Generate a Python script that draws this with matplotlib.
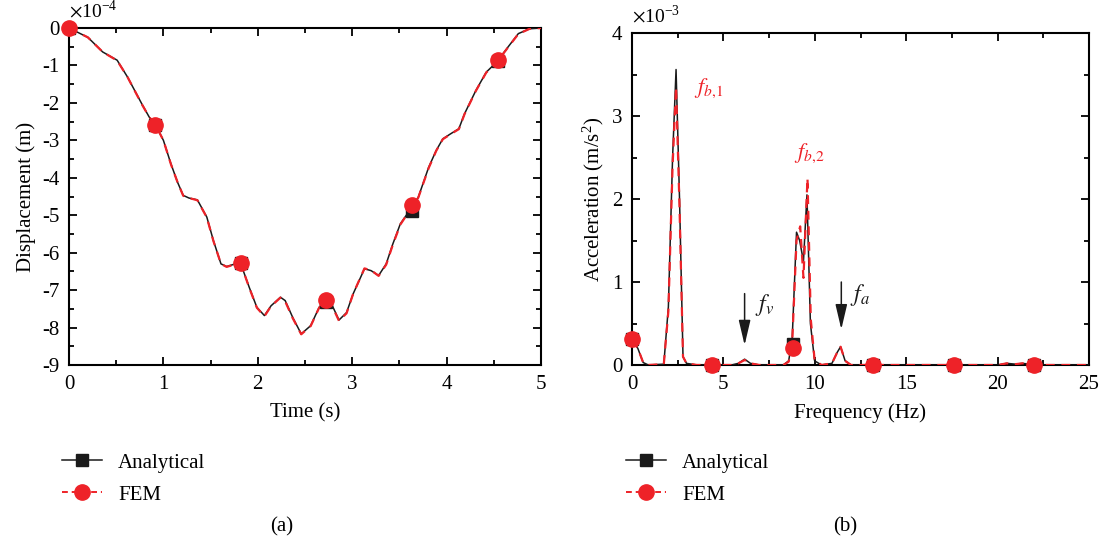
import matplotlib
matplotlib.use("Agg")
import matplotlib.pyplot as plt
from matplotlib.lines import Line2D
from matplotlib.ticker import MultipleLocator, FuncFormatter

plt.rcParams['font.family'] = ['Liberation Serif', 'DejaVu Serif']
plt.rcParams['mathtext.fontset'] = 'stix'

# ---------------- data: panel (a) displacement (x1e-4 m) ----------------
t_ana = [0, 0.2, 0.357, 0.51, 0.62, 0.77, 0.85, 0.91, 1.0, 1.08, 1.15, 1.21, 1.27, 1.36,
         1.46, 1.53, 1.61, 1.67, 1.76, 1.82, 1.91, 1.99, 2.07, 2.14, 2.24, 2.29, 2.37,
         2.46, 2.56, 2.65, 2.72, 2.79, 2.86, 2.94, 3.01, 3.13, 3.2, 3.28, 3.36, 3.43,
         3.51, 3.62, 3.7, 3.81, 3.89, 3.96, 4.04, 4.13, 4.19, 4.31, 4.42, 4.53, 4.65,
         4.76, 4.88, 5.0]
d_ana = [0, -0.25, -0.64, -0.86, -1.31, -2.02, -2.38, -2.56, -3.0, -3.63, -4.12, -4.47,
         -4.54, -4.59, -5.05, -5.68, -6.3, -6.37, -6.3, -6.3, -6.93, -7.46, -7.68, -7.42,
         -7.19, -7.28, -7.73, -8.17, -7.95, -7.46, -7.28, -7.42, -7.8, -7.6, -7.1, -6.43,
         -6.48, -6.61, -6.3, -5.77, -5.23, -4.83, -4.52, -3.72, -3.27, -2.96, -2.83,
         -2.69, -2.29, -1.67, -1.18, -0.91, -0.51, -0.15, -0.02, 0]
d_fem = [0, -0.25, -0.64, -0.87, -1.31, -2.03, -2.38, -2.56, -3.0, -3.64, -4.12, -4.48,
         -4.54, -4.6, -5.06, -5.69, -6.3, -6.38, -6.31, -6.3, -6.94, -7.47, -7.7, -7.43,
         -7.2, -7.3, -7.75, -8.18, -7.96, -7.47, -7.28, -7.44, -7.82, -7.62, -7.1, -6.42,
         -6.47, -6.62, -6.32, -5.79, -5.25, -4.83, -4.53, -3.74, -3.28, -2.97, -2.84,
         -2.7, -2.3, -1.68, -1.19, -0.92, -0.52, -0.16, -0.02, 0]
t_mk = [0, 0.909, 1.818, 2.727, 3.636, 4.545]
d_mk_ana = [0, -2.6, -6.28, -7.32, -4.88, -0.88]
d_mk_fem = [0, -2.6, -6.28, -7.27, -4.73, -0.85]

# ---------------- data: panel (b) acceleration spectrum (x1e-3 m/s^2) ----------------
f_ana = [0, 0.32, 0.61, 0.89, 1.74, 1.99, 2.22, 2.41, 2.6, 2.79, 2.98, 3.54, 5.44, 5.82,
         6.16, 6.48, 6.96, 8.28, 8.57, 8.76, 9.0, 9.17, 9.38, 9.57, 9.76, 9.99, 10.37,
         10.94, 11.22, 11.41, 11.66, 11.98, 20.03, 20.5, 20.98, 21.36, 22.12, 25.0]
a_ana = [0.3, 0.2, 0.03, 0.0, 0.01, 0.7, 2.5, 3.56, 2.0, 0.1, 0.02, 0.0, 0.0, 0.02,
         0.07, 0.02, 0.0, 0.0, 0.05, 0.3, 1.6, 1.5, 1.25, 2.05, 0.5, 0.05, 0.0,
         0.02, 0.15, 0.22, 0.05, 0.0, 0.0, 0.02, 0.01, 0.02, 0.0, 0.0]
f_fem = [0, 0.32, 0.61, 0.89, 1.74, 1.99, 2.22, 2.41, 2.6, 2.79, 2.98, 3.54, 5.44, 5.82,
         6.16, 6.48, 6.96, 8.28, 8.57, 8.76, 9.0, 9.2, 9.38, 9.6, 9.78, 9.99, 10.37,
         10.94, 11.22, 11.41, 11.66, 11.98, 20.03, 20.5, 20.98, 21.36, 22.12, 25.0]
a_fem = [0.3, 0.2, 0.03, 0.0, 0.01, 0.65, 2.4, 3.35, 1.9, 0.1, 0.02, 0.0, 0.0, 0.02,
         0.06, 0.02, 0.0, 0.0, 0.04, 0.25, 1.5, 1.67, 1.05, 2.25, 0.55, 0.06, 0.0,
         0.02, 0.15, 0.22, 0.05, 0.0, 0.0, 0.02, 0.01, 0.02, 0.0, 0.0]
f_mk = [0, 4.4, 8.8, 13.2, 17.6, 22.0]
a_mk_ana = [0.31, 0.0, 0.25, 0.0, 0.0, 0.0]
a_mk_fem = [0.31, 0.0, 0.2, 0.0, 0.0, 0.0]

RED = '#ee2228'
BLK = '#1a1a1a'
FS = 15

fig = plt.figure(figsize=(11.01, 5.47), dpi=100)
axA = fig.add_axes([69/1101, 1-365/547, (541-69)/1101, (365-28)/547])
axB = fig.add_axes([632/1101, 1-365/547, (1089-632)/1101, (365-33)/547])

def style(ax):
    for s in ax.spines.values():
        s.set_linewidth(1.5)
    ax.tick_params(which='both', direction='in', top=True, right=True, labelsize=FS,
                   width=1.3)
    ax.tick_params(which='major', length=6, pad=7)
    ax.tick_params(which='minor', length=3.5)

hyph = FuncFormatter(lambda v, p: ('%g' % v).replace('\u2212', '-'))

# panel (a)
axA.plot(t_ana, d_ana, color=BLK, lw=1.1, zorder=3)
axA.plot(t_ana, d_fem, color=RED, lw=1.6, ls=(0, (4, 3)), zorder=4)
axA.plot(t_mk, d_mk_ana, ls='none', marker='s', ms=9, color=BLK, zorder=5)
axA.plot(t_mk, d_mk_fem, ls='none', marker='o', ms=11, color=RED, zorder=6, clip_on=False)
axA.set_xlim(0, 5)
axA.set_ylim(-9, 0)
axA.xaxis.set_major_locator(MultipleLocator(1))
axA.xaxis.set_minor_locator(MultipleLocator(0.5))
axA.yaxis.set_major_locator(MultipleLocator(1))
axA.yaxis.set_minor_locator(MultipleLocator(0.5))
axA.yaxis.set_major_formatter(hyph)
axA.set_xlabel('Time (s)', fontsize=FS, labelpad=7)
axA.set_ylabel('Displacement (m)', fontsize=FS, labelpad=4)
style(axA)
axA.text(0.0, 1.02, r'$\times$10$^{\mathregular{-4}}$', transform=axA.transAxes,
         fontsize=14, ha='left', va='bottom')

# panel (b)
axB.plot(f_ana, a_ana, color=BLK, lw=1.1, zorder=3)
axB.plot(f_fem, a_fem, color=RED, lw=1.6, ls=(0, (4, 3)), zorder=4)
axB.plot(f_mk, a_mk_ana, ls='none', marker='s', ms=9, color=BLK, zorder=5, clip_on=False)
axB.plot(f_mk, a_mk_fem, ls='none', marker='o', ms=11, color=RED, zorder=6, clip_on=False)
axB.set_xlim(0, 25)
axB.set_ylim(0, 4)
axB.xaxis.set_major_locator(MultipleLocator(5))
axB.xaxis.set_minor_locator(MultipleLocator(2.5))
axB.yaxis.set_major_locator(MultipleLocator(1))
axB.yaxis.set_minor_locator(MultipleLocator(0.5))
axB.set_xlabel('Frequency (Hz)', fontsize=FS, labelpad=7)
axB.set_ylabel('Acceleration (m/s$^{\\mathregular{2}}$)', fontsize=FS, labelpad=4)
style(axB)
axB.text(0.0, 1.02, r'$\times$10$^{\mathregular{-3}}$', transform=axB.transAxes,
         fontsize=14, ha='left', va='bottom')

axB.text(3.4, 3.33, r'$f_{b,\!1}$', color=RED, fontsize=16, ha='left', va='center')
axB.text(8.85, 2.55, r'$f_{b,\!2}$', color=RED, fontsize=16, ha='left', va='center')
arrow_kw = dict(arrowstyle='-|>,head_length=0.85,head_width=0.2', color=BLK, lw=1.1,
                mutation_scale=18, shrinkA=0, shrinkB=0)
axB.annotate('', xy=(6.16, 0.24), xytext=(6.16, 0.86), arrowprops=arrow_kw)
axB.text(6.75, 0.72, r'$f_{v}$', color=BLK, fontsize=17, ha='left', va='center')
axB.annotate('', xy=(11.45, 0.43), xytext=(11.45, 1.0), arrowprops=arrow_kw)
axB.text(11.95, 0.84, r'$f_{a}$', color=BLK, fontsize=17, ha='left', va='center')

# legends
def handles():
    return [Line2D([], [], color=BLK, lw=1.1, marker='s', ms=9),
            Line2D([], [], color=RED, lw=1.4, ls=(0, (3, 2)), marker='o', ms=11)]

for x0 in (62/1101, 626/1101):
    fig.legend(handles(), ['Analytical', 'FEM'], loc='upper left',
               bbox_to_anchor=(x0, 1-453/547), frameon=False, fontsize=FS,
               handlelength=1.9, handletextpad=0.8, labelspacing=0.6,
               borderaxespad=0, borderpad=0)

fig.text(282/1101, 1-527/547, '(a)', fontsize=FS, ha='center', va='center')
fig.text(845/1101, 1-527/547, '(b)', fontsize=FS, ha='center', va='center')

fig.savefig('out.png', dpi=100)
